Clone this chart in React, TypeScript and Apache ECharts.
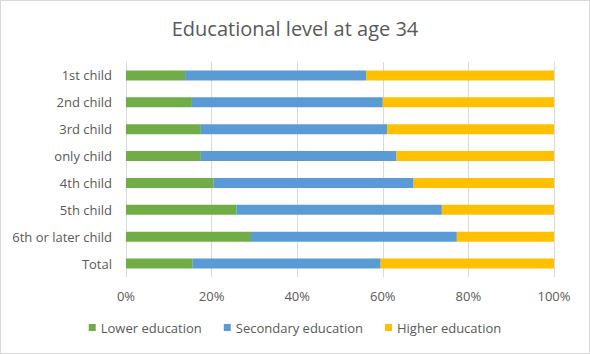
import React, { useEffect, useRef } from "react";
import * as echarts from "echarts";

const categories = ["1st child", "2nd child", "3rd child", "only child", "4th child", "5th child", "6th or later child", "Total"];
const lowerEducation = [13.8, 15.4, 17.5, 17.5, 20.4, 25.8, 29.2, 15.6];
const secondaryEducation = [42.3, 44.6, 43.5, 45.7, 46.8, 48.0, 48.1, 43.9];
const higherEducation = [43.9, 40.0, 39.0, 36.8, 32.8, 26.2, 22.7, 40.5];
const xTicks = [0, 20, 40, 60, 80, 100];

export default function App() {
  const ref = useRef<HTMLDivElement>(null);
  useEffect(() => {
    const chart = echarts.init(ref.current!, null, { renderer: "svg" });
    const font = "'Open Sans', 'Liberation Sans', sans-serif";
    chart.setOption({
      animation: false,
      textStyle: { fontFamily: font },
      title: {
        text: "Educational level at age 34",
        left: "center",
        top: 12,
        textStyle: { fontFamily: font, fontSize: 20, fontWeight: "normal", color: "#595959" },
      },
      legend: {
        bottom: 14,
        left: "center",
        itemWidth: 7,
        itemHeight: 7,
        itemGap: 22,
        icon: "rect",
        textStyle: { fontFamily: font, fontSize: 13, color: "#595959" },
        data: ["Lower education", "Secondary education", "Higher education"],
      },
      grid: { left: 125, right: 35, top: 61, bottom: 76, containLabel: false },
      xAxis: {
        type: "value",
        min: xTicks[0],
        max: xTicks[xTicks.length - 1],
        interval: 20,
        axisLabel: { formatter: "{value}%", color: "#595959", fontSize: 13, margin: 12 },
        splitLine: { lineStyle: { color: "#d9d9d9" } },
        axisLine: { show: false },
        axisTick: { show: false },
      },
      yAxis: {
        type: "category",
        data: categories,
        inverse: true,
        axisLabel: { color: "#595959", fontSize: 13, margin: 14 },
        axisLine: { show: false },
        axisTick: { show: false },
      },
      series: [
        { name: "Lower education", type: "bar", stack: "a", data: lowerEducation, barWidth: 10, itemStyle: { color: "#70AD47" } },
        { name: "Secondary education", type: "bar", stack: "a", data: secondaryEducation, barWidth: 10, itemStyle: { color: "#5B9BD5" } },
        { name: "Higher education", type: "bar", stack: "a", data: higherEducation, barWidth: 10, itemStyle: { color: "#FFC000" } },
      ],
    });
    return () => chart.dispose();
  }, []);
  return (
    <div
      ref={ref}
      style={{
        position: "absolute",
        left: 0,
        top: 0,
        width: 590,
        height: 354,
        boxSizing: "border-box",
        border: "1px solid #d9d9d9",
        background: "#fff",
      }}
    />
  );
}
